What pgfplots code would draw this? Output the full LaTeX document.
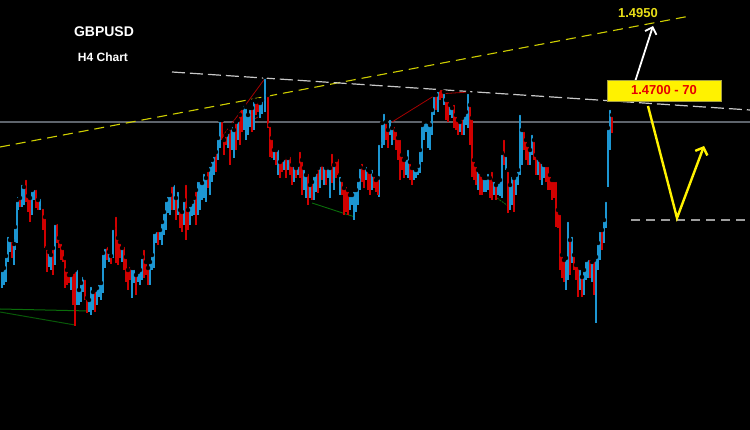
\documentclass[border=0pt]{standalone}
\usepackage{pgfplots}
\pgfplotsset{compat=1.18}
\usepackage{pgfplotstable}
\usepackage{fontspec}
\setmainfont{Liberation Sans}
\usetikzlibrary{arrows.meta}
\definecolor{cblue}{HTML}{1C96D2}
\definecolor{cred}{HTML}{D00000}
\definecolor{hgrey}{HTML}{5E646C}
\definecolor{ylw}{HTML}{CFCF00}
\definecolor{dgreen}{HTML}{0A6E0A}

% candles: x position, top (high) and bottom (low), in picture pixels
\pgfplotstableread{
x top bot
2 270 288
4 268 285
6 256 282
8 235 262
10 240 252
14 244 265
15 227 250
17 200 243
18 195 210
22 183 207
24 187 205
32 190 215
34 188 200
40 197 210
49 252 267
51 255 270
55 223 265
71 275 290
77 268 305
79 290 305
81 283 302
83 275 292
89 300 312
91 285 315
93 292 310
97 288 305
99 283 297
101 283 300
103 253 293
105 247 268
109 252 262
113 228 258
122 248 262
132 268 298
134 268 283
138 272 282
140 270 285
142 257 280
150 262 285
152 255 270
154 232 268
156 230 243
160 230 240
162 222 245
164 212 235
166 200 230
168 195 213
170 195 215
174 183 210
178 190 215
184 200 225
190 205 225
192 202 216
194 198 215
198 180 215
200 180 210
202 183 200
204 172 198
206 178 202
210 165 195
212 160 182
214 155 175
218 138 160
220 120 148
228 132 148
232 125 150
234 130 158
238 120 140
244 104 130
246 107 140
248 115 135
250 108 127
254 100 130
260 103 118
262 100 114
265 77 112
274 150 160
278 148 175
284 158 170
288 158 170
294 165 182
298 165 175
304 168 190
306 175 198
310 185 198
314 175 200
316 172 192
320 165 188
324 165 185
328 165 178
330 168 198
334 165 190
340 175 195
350 195 210
352 195 205
354 190 220
356 190 212
358 180 205
360 167 190
366 165 180
372 168 190
379 143 197
382 123 148
384 112 145
390 118 135
392 128 145
406 158 175
408 148 178
414 168 180
416 170 178
418 166 175
420 150 173
422 125 162
424 122 140
426 120 132
428 122 148
430 125 150
432 110 135
434 95 115
438 90 112
444 92 105
450 105 115
452 108 118
460 122 132
464 115 135
466 112 125
468 92 128
478 170 190
484 178 192
486 178 192
488 172 190
494 180 195
498 182 195
500 180 196
502 153 198
506 155 170
510 185 210
512 175 205
516 175 195
518 170 185
520 113 175
522 130 165
530 150 165
532 133 155
538 158 175
542 162 185
544 165 178
566 258 290
568 220 280
572 235 263
580 268 290
584 270 295
586 260 280
588 258 278
592 262 282
596 257 323
598 243 270
600 230 260
604 220 243
606 200 228
608 128 187
610 108 150
}\bluecandles

\pgfplotstableread{
x top bot
12 240 258
20 198 207
26 178 202
28 196 212
30 198 222
36 188 208
38 200 210
43 207 230
45 217 248
47 248 272
53 248 275
57 222 243
59 238 248
61 242 260
63 248 262
65 258 288
67 270 285
69 275 283
73 272 305
75 270 326
85 278 300
87 298 313
95 290 312
107 245 260
111 256 264
116 215 263
118 238 265
120 242 258
124 245 270
126 257 282
128 270 290
130 265 280
136 275 295
144 248 278
146 262 275
148 268 285
158 230 245
172 185 210
176 198 220
180 210 228
182 212 232
186 183 240
188 210 230
196 190 225
208 170 188
216 152 172
222 120 140
224 140 155
226 135 145
230 128 165
236 122 150
240 115 145
242 108 132
252 108 132
256 102 115
258 100 112
268 95 128
270 125 157
272 138 158
276 150 165
280 162 178
282 160 172
286 155 178
290 155 175
292 165 185
296 168 178
300 150 178
302 160 195
308 172 205
312 182 200
318 168 193
322 162 180
326 168 185
332 152 183
336 160 178
338 157 175
342 180 195
344 188 215
346 185 212
348 190 215
362 162 182
364 168 188
368 170 190
370 172 195
374 175 188
376 180 192
378 178 195
386 122 140
388 130 148
394 125 140
396 130 150
398 138 160
400 138 180
402 155 170
404 160 178
410 162 180
412 168 185
436 95 110
440 88 100
442 88 98
446 100 120
448 100 122
454 103 128
456 115 130
458 120 135
462 118 135
470 105 145
472 118 177
474 160 180
476 165 185
480 172 195
482 175 195
490 178 198
492 170 200
496 185 200
504 138 165
508 170 213
514 178 212
524 130 150
526 140 160
528 145 165
534 140 160
536 155 175
540 160 180
546 165 182
548 165 190
550 175 190
552 180 200
554 180 198
556 180 227
558 210 228
560 213 270
562 255 278
564 260 282
570 240 275
574 255 270
576 265 280
578 265 297
582 277 297
590 258 278
594 260 295
602 230 250
612 115 133
}\redcandles

\begin{document}
\begin{tikzpicture}
\begin{axis}[
  width=750pt, height=430pt, scale only axis,
  xmin=0, xmax=750, ymin=0, ymax=430, y dir=reverse,
  axis line style={draw=none},
  axis background/.style={fill=black},
  xtick=\empty, ytick=\empty,
  clip=true,
]
% reference lines
\addplot[hgrey, line width=1.8pt] coordinates {(0,122) (750,122)};
\addplot[ylw, line width=1.1pt, dash pattern=on 10pt off 6pt] coordinates {(0,147) (690,16)};
\addplot[white!78!black, line width=1.2pt, dash pattern=on 13pt off 5pt] coordinates {(172,72) (750,110)};
\addplot[white!62!black, line width=1.2pt, dash pattern=on 9pt off 6pt] coordinates {(631,220) (750,220)};
% pattern lines
\addplot[cred!80!black, line width=0.8pt] coordinates {(222,137) (266,77)};
\addplot[cred!80!black, line width=0.8pt] coordinates {(222,137) (258,117)};
\addplot[cred!80!black, line width=0.8pt] coordinates {(392,122) (437,94) (470,92)};
\addplot[dgreen, line width=1pt] coordinates {(0,309) (90,311)};
\addplot[dgreen!80!black, line width=1pt] coordinates {(0,312) (75,325)};
\addplot[dgreen, line width=0.9pt] coordinates {(312,203) (355,217)};
\addplot[dgreen, line width=0.9pt, dash pattern=on 2pt off 1pt] coordinates {(497,198) (511,208)};
% candles
\addplot[only marks, mark=none, error bars/.cd, y dir=plus, y explicit,
  error mark=none, error bar style={draw=cblue, line width=1.8pt}]
  table[x=x, y=top, y error expr=\thisrow{bot}-\thisrow{top}] {\bluecandles};
\addplot[only marks, mark=none, error bars/.cd, y dir=plus, y explicit,
  error mark=none, error bar style={draw=cred, line width=1.8pt}]
  table[x=x, y=top, y error expr=\thisrow{bot}-\thisrow{top}] {\redcandles};
% arrows
\addplot[white, line width=1.8pt, -{Straight Barb[length=6pt, width=12pt, line width=1.8pt]}]
  coordinates {(633,88) (653,26)};
\addplot[yellow, line width=2.4pt, -{Straight Barb[length=6pt, width=13pt, line width=2.4pt]}]
  coordinates {(648,106) (677,218) (704,146)};
% labels
\node[text=white, font=\bfseries\fontsize{14}{14}\selectfont] at (axis cs:104,32) {GBPUSD};
\node[text=white, font=\bfseries\fontsize{12}{12}\selectfont] at (axis cs:103,57) {H4 Chart};
\node[text=yellow!90!black, font=\bfseries\fontsize{13}{13}\selectfont] at (axis cs:638,13) {1.4950};
\node[fill=yellow, draw=yellow!60!black, line width=0.8pt, text=red!90!black,
  minimum width=114pt, minimum height=21pt, inner sep=0pt,
  font=\bfseries\fontsize{13}{13}\selectfont] at (axis cs:664,90.5) {1.4700 - 70};
\end{axis}
\end{tikzpicture}
\end{document}
